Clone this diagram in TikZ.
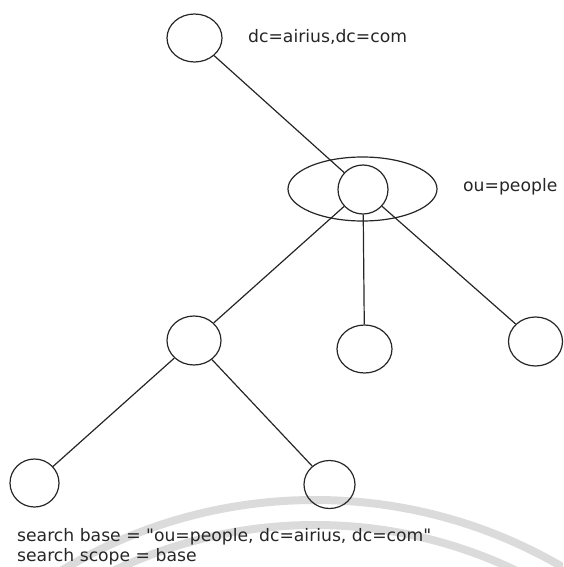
\documentclass[tikz,border=0pt]{standalone}
\usepackage{fontspec}
\setmainfont{DejaVu Sans}
% plain family without TeX ligature mapping, so " stays a straight quote
\newfontfamily\labelfont{DejaVu Sans}
\usetikzlibrary{shapes.geometric}
\begin{document}
\begin{tikzpicture}[x=1pt,y=-1pt,
  entry/.style={draw=black!85,line width=1.2pt,ellipse,inner sep=0pt},
  link/.style={draw=black!85,line width=1.2pt},
  lbl/.style={anchor=base west,inner sep=0pt,text=black!85,font=\labelfont\fontsize{17.2}{20}\selectfont},
  mark ring/.style={draw=black!14,line width=8pt}]
\useasboundingbox (0,0) rectangle (563,567);
% faint rings in the lower part of the page
\begin{scope}
  \clip (0,0) rectangle (563,567);
  \draw[mark ring] (315,990) circle[radius=490];
  \draw[mark ring] (315,990) circle[radius=465];
\end{scope}
% directory entries
\node[entry,minimum width=55pt,minimum height=48pt] (root) at (194.5,38) {};
\node[entry,minimum width=149pt,minimum height=64pt] (ougroup) at (362.5,189) {};
\node[entry,minimum width=50pt,minimum height=49pt] (people) at (363,189.5) {};
\node[entry,minimum width=54pt,minimum height=49pt] (left) at (194,340.5) {};
\node[entry,minimum width=55pt,minimum height=48pt] (middle) at (364.5,349) {};
\node[entry,minimum width=54pt,minimum height=49pt] (right) at (535.5,341.5) {};
\node[entry,minimum width=49pt,minimum height=48pt] (leafa) at (34.5,483) {};
\node[entry,minimum width=51pt,minimum height=48pt] (leafb) at (329.5,484.5) {};
% tree edges
\draw[link] (root) -- (people);
\draw[link] (people) -- (left);
\draw[link] (people) -- (middle);
\draw[link] (people) -- (right);
\draw[link] (left) -- (leafa);
\draw[link] (left) -- (leafb);
% labels
\node[lbl] (rootlbl) at (248,43) {dc=airius,dc=com};
\node[lbl] (oulbl) at (463,191) {ou=people};
\node[lbl] (base) at (17,541) {search base = "ou=people, dc=airius, dc=com"};
\node[lbl] (scope) at (17,561) {search scope = base};
\end{tikzpicture}
\end{document}
